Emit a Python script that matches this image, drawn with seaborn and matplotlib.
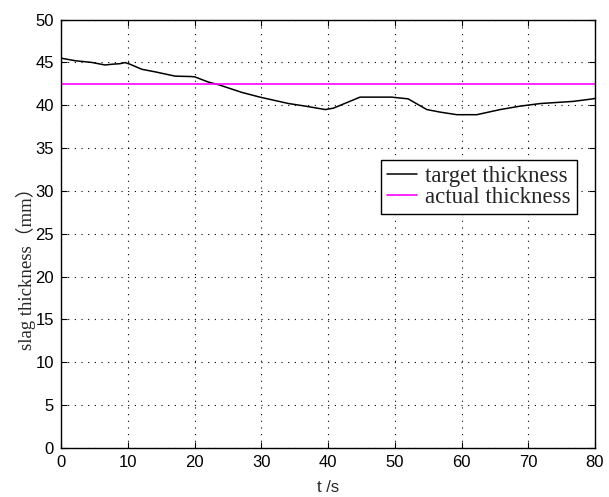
import numpy as np
import pandas as pd
import seaborn as sns
import matplotlib
matplotlib.use("Agg")
import matplotlib.pyplot as plt

# data
t_target = [0, 2.1, 4.6, 6.6, 7.8, 8.8, 9.6, 10.3, 12.1, 14.1, 17.1, 19.6, 20.1, 22.1, 23.6,
            27.1, 29.8, 34.1, 36.6, 39.6, 40.8, 44.8, 49.5, 52.0, 54.8, 56.8, 59.3, 62.3,
            65.8, 68.8, 71.8, 76.7, 79.7, 80]
target = [45.5, 45.2, 45.0, 44.7, 44.8, 44.85, 44.98, 44.8, 44.2, 43.9, 43.4, 43.35, 43.3,
          42.7, 42.4, 41.5, 40.95, 40.2, 39.9, 39.5, 39.66, 40.95, 40.95, 40.75, 39.5, 39.2,
          38.9, 38.9, 39.5, 39.9, 40.2, 40.45, 40.75, 40.8]
t_actual = [0, 80]
actual = [42.5, 42.5]

x_ticks = [0, 10, 20, 30, 40, 50, 60, 70, 80]
y_ticks = [0, 5, 10, 15, 20, 25, 30, 35, 40, 45, 50]

sns.set_style("ticks")
plt.rcParams['font.family'] = ['Liberation Sans', 'DejaVu Sans']
plt.rcParams['xtick.direction'] = 'in'
plt.rcParams['ytick.direction'] = 'in'

fig = plt.figure(figsize=(6.09, 4.97), dpi=100)
ax = fig.add_axes([0.1002, 0.0986, 0.8768, 0.862])

df_t = pd.DataFrame({"t": t_target, "v": target})
df_a = pd.DataFrame({"t": t_actual, "v": actual})
sns.lineplot(data=df_t, x="t", y="v", ax=ax, color="black", lw=1.1, label="target thickness")
sns.lineplot(data=df_a, x="t", y="v", ax=ax, color="#ff00ff", lw=1.2, label="actual thickness")

ax.set_xlim(0, 80)
ax.set_ylim(0, 50)
ax.set_xticks(x_ticks)
ax.set_yticks(y_ticks)
ax.tick_params(which='both', top=True, right=True, length=4, width=0.8, labelsize=12, colors='black', pad=5)
ax.grid(True, linestyle=(0, (1, 5)), color='black', linewidth=0.8)
for s in ax.spines.values():
    s.set_color('black')
    s.set_linewidth(1.0)

ax.set_xlabel("t /s", fontsize=12, labelpad=7)
ax.set_ylabel("slag thickness（mm）", fontsize=13.5, family=['Liberation Serif', 'Noto Sans CJK SC'])
ax.yaxis.set_label_coords(-0.047, 0.43)

leg = ax.legend(loc='upper right', bbox_to_anchor=(0.966, 0.672), prop={'family': 'Liberation Serif', 'size': 16.5},
                frameon=True, fancybox=False, edgecolor='black', framealpha=1, handlelength=1.35,
                borderpad=0.25, labelspacing=0.0, handletextpad=0.35, borderaxespad=0)
leg.get_frame().set_linewidth(1.0)

fig.savefig("out.png", dpi=100)
